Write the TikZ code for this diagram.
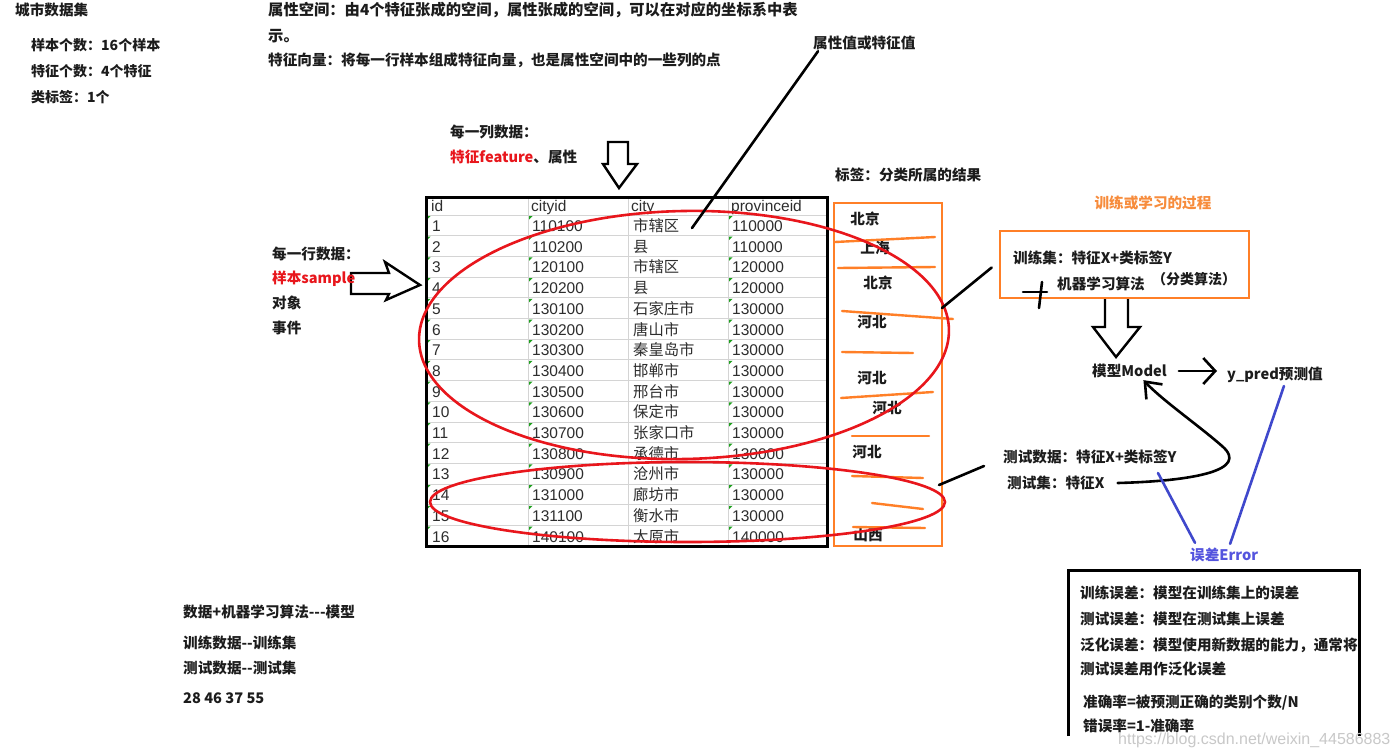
\documentclass[tikz,border=0pt]{standalone}
\usepackage{fontspec}
\setmainfont{Noto Sans CJK SC}
\newfontfamily\tabfont{Liberation Sans}
\usetikzlibrary{arrows.meta}
\definecolor{txt}{RGB}{28,28,28}
\definecolor{redc}{RGB}{232,22,28}
\definecolor{orc}{RGB}{255,127,39}
\definecolor{ortxt}{RGB}{247,140,60}
\definecolor{bluec}{RGB}{63,72,204}
\definecolor{errc}{RGB}{84,84,222}
\definecolor{gridc}{RGB}{212,212,212}
\definecolor{cellc}{RGB}{45,45,45}
\definecolor{greenc}{RGB}{30,160,30}
\definecolor{wmc}{RGB}{200,200,200}
\begin{document}
\begin{tikzpicture}[x=1pt,y=-1pt,
  lbl/.style={anchor=west,inner sep=0pt,text=txt,font=\fontsize{14.6}{17}\selectfont\bfseries},
  txtbig/.style={lbl,font=\fontsize{15.3}{18}\selectfont\bfseries},
  txtsm/.style={lbl,font=\fontsize{14}{17}\selectfont\bfseries},
  cellnum/.style={anchor=base west,inner sep=0pt,text=cellc,font=\tabfont\fontsize{15.5}{18}\selectfont},
  cellcn/.style={anchor=base west,inner sep=0pt,text=cellc,font=\fontsize{15.3}{18}\selectfont},
  citylab/.style={anchor=center,inner sep=0pt,text=txt,font=\fontsize{14.6}{17}\selectfont\bfseries},
  redline/.style={draw=redc,line width=2.6pt},
  orline/.style={draw=orc,line width=2.4pt,line cap=round},
  blk/.style={draw=black,line width=2.6pt,line cap=round},
  hollow/.style={draw=black,line width=2.4pt,line join=miter},
  blueline/.style={draw=bluec,line width=2.6pt,line cap=round},
  gridline/.style={draw=gridc,line width=1pt},
]
\useasboundingbox[fill=white] (0,0) rectangle (1399,755);

% ---------- top-left block
\node[lbl] (title) at (15,10) {城市数据集};
\node[txtsm] (n1) at (31,45) {样本个数：16个样本};
\node[txtsm] (n2) at (31,71) {特征个数：4个特征};
\node[txtsm] (n3) at (31,97) {类标签：1个};

% ---------- top-middle block
\node[txtbig] (sp1) at (268,10) {属性空间：由4个特征张成的空间，属性张成的空间，可以在对应的坐标系中表};
\node[txtbig] (sp2) at (268,36) {示。};
\node[lbl] (sp3) at (268,60) {特征向量：将每一行样本组成特征向量，也是属性空间中的一些列的点};

\node[lbl] (attrval) at (813,43) {属性值或特征值};

% ---------- column annotation
\node[lbl] (col1) at (450,132) {每一列数据：};
\node[lbl] (col2) at (450,157) {\textcolor{redc}{特征feature}、属性};
\draw[hollow] (608,142) -- (628,142) -- (628,164) -- (637,164) -- (619,188) -- (603,164) -- (608,164) -- cycle;

% ---------- row annotation
\draw[hollow] (351,273) -- (389,273) -- (385,262) -- (420,285) -- (386,300) -- (389,294) -- (351,294) -- cycle;
\node[lbl] (row1) at (272,254) {每一行数据：};
\node[lbl] (row2) at (272,279) {\textcolor{redc}{样本sample}};
\node[lbl] (row3) at (272,303) {对象};
\node[lbl] (row4) at (272,328) {事件};

% ---------- table
\foreach \k in {0,...,15} \draw[gridline] (426,{215+20.7*\k}) -- (827,{215+20.7*\k});
\foreach \xx in {528,628,728} \draw[gridline] (\xx,197) -- (\xx,546);
\node[cellnum] (hid) at (431,211) {id};
\node[cellnum] (hcid) at (531,211) {cityid};
\node[cellnum] (hcity) at (631,211) {city};
\node[cellnum] (hprov) at (731,211) {provinceid};
\foreach \i/\cid/\cname/\pid in {1/110100/市辖区/110000,2/110200/县/110000,3/120100/市辖区/120000,4/120200/县/120000,5/130100/石家庄市/130000,6/130200/唐山市/130000,7/130300/秦皇岛市/130000,8/130400/邯郸市/130000,9/130500/邢台市/130000,10/130600/保定市/130000,11/130700/张家口市/130000,12/130800/承德市/130000,13/130900/沧州市/130000,14/131000/廊坊市/130000,15/131100/衡水市/130000,16/140100/太原市/140000}{
  \pgfmathsetmacro{\rt}{215+20.7*(\i-1)}
  \foreach \gx in {427,529,729} \fill[greenc] (\gx,{\rt+1}) -- ++(3.5,0) -- ++(-3.5,3.5) -- cycle;
  \node[cellnum] (id\i) at (432,{\rt+16.5}) {\i};
  \node[cellnum] (cid\i) at (532,{\rt+16.5}) {\cid};
  \node[cellcn] (cn\i) at (633,{\rt+16.5}) {\cname};
  \node[cellnum] (pid\i) at (732,{\rt+16.5}) {\pid};
}
\draw[line width=3pt] (426,197) rectangle (827,546);

% ---------- label column
\node[lbl] (labtitle) at (835,175) {标签：分类所属的结果};
\draw[draw=orc,line width=2.6pt] (834,203) rectangle (942,546);
\node[citylab] (l1) at (865,219) {北京};
\node[citylab] (l2) at (875,248) {上海};
\node[citylab] (l3) at (878,283) {北京};
\node[citylab] (l4) at (872,322) {河北};
\node[citylab] (l5) at (872,378) {河北};
\node[citylab] (l6) at (887,408) {河北};
\node[citylab] (l7) at (867,452) {河北};
\node[citylab] (l8) at (868,535) {山西};
\draw[orline] (835,242) -- (935,237);
\draw[orline] (838,268) -- (935,267);
\draw[orline] (842,311) -- (953,319);
\draw[orline] (842,352) -- (913,353);
\draw[orline] (841,398) -- (933,392);
\draw[orline] (852,436) -- (929,436);
\draw[orline] (852,476) -- (923,478);
\draw[orline] (872,503) -- (923,509);
\draw[orline] (853,527) -- (925,528);

% ---------- red ellipses
\draw[redline,rotate around={1.2:(684,335)}] (684,335) ellipse [x radius=265pt, y radius=124pt];
\draw[redline] (687.5,502) ellipse [x radius=257.5pt, y radius=40pt];

% ---------- black pointer lines
\coordinate (attrend) at (692,228);
\draw[blk] ([xshift=5pt,yshift=-1pt]attrval.south west) -- (attrend);

% ---------- training process
\node[anchor=center,inner sep=0pt,text=ortxt,font=\fontsize{14.6}{17}\selectfont\bfseries] (proc) at (1153,203) {训练或学习的过程};
\node[draw=orc,line width=2.6pt,minimum width=249pt,minimum height=67pt,inner sep=0pt] (trainbox) at (1124.5,264.5) {};
\node[lbl] (trainset) at (1013,258) {训练集：特征X+类标签Y};
\node[lbl] (algo) at (1057,284) {机器学习算法};
\node[txtsm] (cls) at (1152,279) {（分类算法）};
\draw[blk] (1023,292) -- (1047,292);
\draw[blk] (1042,282) -- (1039,308);

\coordinate (e1r) at (942,308);
\draw[blk] (e1r) -- ([xshift=-7pt,yshift=-3pt]trainbox.west);

\draw[hollow] (1105,299) -- (1105,327) -- (1093,327) -- (1116,357) -- (1140,327) -- (1128,327) -- (1128,299);

\node[lbl] (model) at (1092,371) {模型Model};
\node[lbl] (ypred) at (1227,375) {y\_pred预测值};
\draw[blk,-{Straight Barb[length=12pt,width=26pt]}] ([xshift=12pt]model.east) -- ([xshift=-10pt,yshift=4pt]ypred.west);

% ---------- test data
\node[lbl] (testdata) at (1003,457) {测试数据：特征X+类标签Y};
\node[lbl] (testset) at (1007,483) {测试集：特征X};
\coordinate (e2r) at (939,485);
\draw[blk] (e2r) -- ([xshift=-19pt,yshift=-9pt]testdata.west);
\draw[blk,-{Straight Barb[length=14pt,width=22pt]}] ([xshift=13pt]testset.east) .. controls (1195,481) and (1250,470) .. (1222,446) .. controls (1198,425) and (1162,400) .. ([xshift=14pt,yshift=-2pt]model.south);

% ---------- error
\node[anchor=west,inner sep=0pt,text=errc,font=\fontsize{14.6}{17}\selectfont\bfseries] (err) at (1190,555) {误差Error};
\draw[blueline] (1158,473) -- ([xshift=5pt,yshift=5pt]err.north west);
\draw[blueline] ([xshift=9pt,yshift=-3pt]ypred.south) -- ([xshift=6pt,yshift=4pt]err.north);

\draw[line width=3pt] (1068,736) -- (1068,570) -- (1359,570) -- (1359,736);
\node[lbl] (e1) at (1080,593) {训练误差：模型在训练集上的误差};
\node[lbl] (e2) at (1080,619) {测试误差：模型在测试集上误差};
\node[lbl] (e3) at (1080,645) {泛化误差：模型使用新数据的能力，通常将};
\node[lbl] (e4) at (1080,669) {测试误差用作泛化误差};
\node[lbl] (e5) at (1083,703) {准确率=被预测正确的类别个数/N};
\node[lbl] (e6) at (1083,726) {错误率=1{-}准确率};

% ---------- bottom-left
\node[lbl] (b1) at (183,612) {数据+机器学习算法{-}{-}{-}模型};
\node[lbl] (b2) at (183,643) {训练数据{-}{-}训练集};
\node[lbl] (b3) at (183,668) {测试数据{-}{-}测试集};
\node[lbl] (b4) at (183,698) {28 46 37 55};

% ---------- watermark
\node[anchor=west,inner sep=0pt,text=wmc,font=\tabfont\fontsize{16}{18}\selectfont] (wm) at (1118,740) {https://blog.csdn.net/weixin\_44586883};
\end{tikzpicture}
\end{document}
